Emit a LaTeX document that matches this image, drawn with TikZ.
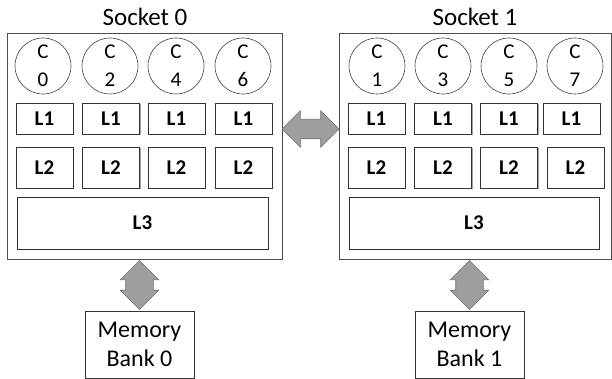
\documentclass[tikz,border=0pt]{standalone}
\usepackage{fontspec}
\setmainfont{Carlito}
\usetikzlibrary{positioning, calc, shapes.arrows, shadows}

\begin{document}
\begin{tikzpicture}[x=1pt, y=-1pt,
    boxshadow/.style={
      drop shadow={shadow xshift=1.2pt, shadow yshift=-1.2pt, fill=black!45, opacity=0.8}
    },
    socket/.style={
      draw=black!70, line width=0.8pt, fill=white, boxshadow,
      minimum width=275pt, minimum height=226pt, inner sep=0pt
    },
    sockettitle/.style={font=\fontsize{25}{30}\selectfont, inner sep=0pt},
    core/.style={
      circle, draw=black!75, line width=0.6pt, fill=white, minimum size=56pt,
      inner sep=0pt, align=center, font=\fontsize{21}{28}\selectfont
    },
    cache/.style={
      draw=black!80, line width=0.7pt, fill=white, boxshadow, inner sep=0pt,
      minimum width=57pt, font=\fontsize{21}{24}\selectfont\bfseries
    },
    membank/.style={
      draw=black!80, line width=0.7pt, fill=white, boxshadow, align=center,
      minimum width=109pt, minimum height=67pt, inner sep=0pt,
      font=\fontsize{24}{29}\selectfont
    },
    link/.style={
      double arrow, draw=black!55, fill=black!38, line width=0.6pt,
      inner xsep=0pt, double arrow tip angle=90
    },
  ]
    \useasboundingbox (0,0) rectangle (612,379);

    % socket 0
    \node[sockettitle] at (145,17) {Socket 0};
    \node[socket] (s0) at (144.5,146) {};
    \node[core] (c0) at (43,66) {C\\0};
    \node[core] (c2) at (110,66) {C\\2};
    \node[core] (c4) at (176,66) {C\\4};
    \node[core] (c6) at (243,66) {C\\6};
    \node[cache, minimum height=31pt] (l1c0) at (44.5,118.5) {L1};
    \node[cache, minimum height=31pt] (l1c2) at (111,118.5) {L1};
    \node[cache, minimum height=31pt] (l1c4) at (176.5,118.5) {L1};
    \node[cache, minimum height=31pt] (l1c6) at (243.5,118.5) {L1};
    \node[cache, minimum height=41pt] (l2c0) at (44.5,167.5) {L2};
    \node[cache, minimum height=41pt] (l2c2) at (111,167.5) {L2};
    \node[cache, minimum height=41pt] (l2c4) at (176.5,167.5) {L2};
    \node[cache, minimum height=41pt] (l2c6) at (243.5,167.5) {L2};
    \node[cache, minimum width=251pt, minimum height=52pt] (l3s0) at (142.5,223) {L3};

    % socket 1
    \node[sockettitle] at (475,17) {Socket 1};
    \node[socket, minimum width=272pt] (s1) at (475,146) {};
    \node[core] (c1) at (377,66) {C\\1};
    \node[core] (c3) at (443,66) {C\\3};
    \node[core] (c5) at (509,66) {C\\5};
    \node[core] (c7) at (575,66) {C\\7};
    \node[cache, minimum height=31pt] (l1c1) at (376.5,118.5) {L1};
    \node[cache, minimum height=31pt] (l1c3) at (443,118.5) {L1};
    \node[cache, minimum height=31pt] (l1c5) at (509,118.5) {L1};
    \node[cache, minimum height=31pt] (l1c7) at (571.5,118.5) {L1};
    \node[cache, minimum height=41pt] (l2c1) at (376.5,167.5) {L2};
    \node[cache, minimum height=41pt] (l2c3) at (443,167.5) {L2};
    \node[cache, minimum height=41pt] (l2c5) at (509,167.5) {L2};
    \node[cache, minimum height=41pt] (l2c7) at (575.5,167.5) {L2};
    \node[cache, minimum width=250pt, minimum height=52pt] (l3s1) at (474,223) {L3};

    % memory banks
    \node[membank] (m0) at (139.5,344.5) {Memory\\Bank 0};
    \node[membank] (m1) at (469.5,344.5) {Memory\\Bank 1};

    % links
    \node[link, minimum height=57pt, inner ysep=9.5pt, double arrow head extend=8.5pt,
      yshift=17pt] (qpi) at ($(s0.east)!.5!(s1.west)$) {};
    \node[link, rotate=90, minimum height=49pt, inner ysep=13.5pt, double arrow head extend=5.5pt]
      (mem0) at ($(s0.south -| m0)!.5!(m0.north)$) {};
    \node[link, rotate=90, minimum height=49pt, inner ysep=13.5pt, double arrow head extend=5.5pt]
      (mem1) at ($(s1.south -| m1)!.5!(m1.north)$) {};
  \end{tikzpicture}
\end{document}
